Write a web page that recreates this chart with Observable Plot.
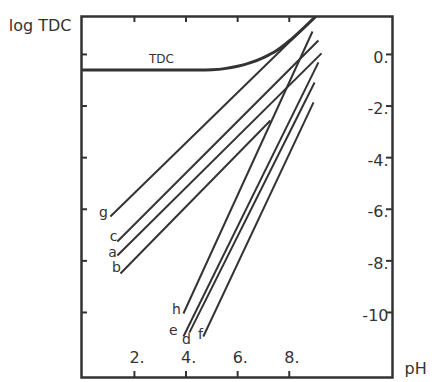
<!DOCTYPE html>
<html>
<head>
<meta charset="utf-8">
<script src="https://cdn.jsdelivr.net/npm/d3@7"></script>
<script src="https://cdn.jsdelivr.net/npm/@observablehq/plot@0.6"></script>
<style>
  html, body { margin: 0; padding: 0; background: #ffffff; }
  #chart svg { display: block; }
</style>
</head>
<body>
<div id="chart"></div>
<script>
// TDC curve
const tdcPH  = [0, 4.5, 5.0, 5.5, 6.0, 6.5, 7.0, 7.5, 8.0, 8.5, 9.05];
const tdcLog = [-0.6, -0.6, -0.59, -0.55, -0.46, -0.32, -0.12, 0.14, 0.52, 0.97, 1.5];

// straight lines a..h : start and end points (pH, log TDC)
const lineIds  = ["g", "c", "a", "b", "h", "e", "d", "f"];
const startPH  = [1.07, 1.34, 1.34, 1.46, 3.90, 3.90, 4.13, 4.67];
const startLog = [-6.28, -7.25, -7.79, -8.49, -10.04, -10.93, -10.78, -10.93];
const endPH    = [9.05, 9.13, 9.25, 7.27, 8.90, 9.13, 8.98, 8.94];
const endLog   = [1.5, 0.54, 0.04, -2.56, 0.89, -0.31, -1.09, -1.86];

// line label anchors (pH, log TDC)
const labelPH  = [0.80, 1.19, 1.15, 1.30, 3.63, 3.51, 4.02, 4.56];
const labelLog = [-6.12, -7.05, -7.67, -8.26, -9.88, -10.70, -11.05, -10.85];
const tdcLabel = ["TDC"];
const tdcLabelPH = [3.05];
const tdcLabelLog = [-0.19];

// ticks
const xTicks = [2, 4, 6, 8];
const xTickLabels = ["2.", "4.", "6.", "8."];
const yTicks = [0, -2, -4, -6, -8, -10];
const yTickLabels = ["0.", "-2.", "-4.", "-6.", "-8.", "-10"];

const tdcData = tdcPH.map((p, i) => ({pH: p, v: tdcLog[i]}));
const lineData = lineIds.map((id, i) => ({id, x1: startPH[i], y1: startLog[i], x2: endPH[i], y2: endLog[i]}));
const labelData = lineIds.map((id, i) => ({id, x: labelPH[i], y: labelLog[i]}));
const tdcLabelData = tdcLabel.map((t, i) => ({t, x: tdcLabelPH[i], y: tdcLabelLog[i]}));

const W = 434, H = 382, mL = 81, mR = 42, mT = 16, mB = 5;
const pw = W - mL - mR, ph = H - mT - mB;
const ink = "#333333";

const chart = Plot.plot({
  width: W, height: H,
  marginLeft: mL, marginRight: mR, marginTop: mT, marginBottom: mB,
  style: {fontFamily: "DejaVu Sans", background: "#ffffff", color: ink},
  x: {domain: [-0.05, 12], axis: null},
  y: {domain: [-12.52, 1.47], axis: null},
  marks: [
    Plot.line(tdcData, {x: "pH", y: "v", curve: "monotone-x", stroke: ink, strokeWidth: 3, clip: true}),
    Plot.link(lineData, {x1: "x1", y1: "y1", x2: "x2", y2: "y2", stroke: ink, strokeWidth: 2, clip: true}),
    Plot.text(labelData, {x: "x", y: "y", text: "id", fontSize: 14, fill: ink}),
    Plot.text(tdcLabelData, {x: "x", y: "y", text: "t", fontSize: 12, fill: ink, letterSpacing: "1px"}),
    // inward ticks
    Plot.tickY(yTicks, {y: d => d, insetRight: pw - 6, stroke: ink, strokeWidth: 2}),
    Plot.tickY(yTicks, {y: d => d, insetLeft: pw - 6, stroke: ink, strokeWidth: 2}),
    Plot.tickX(xTicks, {x: d => d, insetBottom: ph - 6, stroke: ink, strokeWidth: 2}),
    Plot.tickX(xTicks, {x: d => d, insetTop: ph - 6, stroke: ink, strokeWidth: 2}),
    // tick labels inside frame
    Plot.text(yTicks, {y: d => d, text: (d, i) => yTickLabels[i], frameAnchor: "right", textAnchor: "end", dx: -4, dy: 3, fontSize: 16, fill: ink}),
    Plot.text(xTicks, {x: d => d, text: (d, i) => xTickLabels[i], frameAnchor: "bottom", textAnchor: "start", dx: -5, dy: -15, fontSize: 16, fill: ink}),
    // axis titles
    Plot.text(["log TDC"], {frameAnchor: "top-left", textAnchor: "end", dx: -10, dy: 3, fontSize: 16, fill: ink}),
    Plot.text(["pH"], {frameAnchor: "bottom-right", textAnchor: "start", dx: 12, dy: -4, fontSize: 16, fill: ink}),
    Plot.frame({stroke: ink, strokeWidth: 2.5})
  ]
});
document.getElementById("chart").appendChild(chart);
</script>
</body>
</html>
